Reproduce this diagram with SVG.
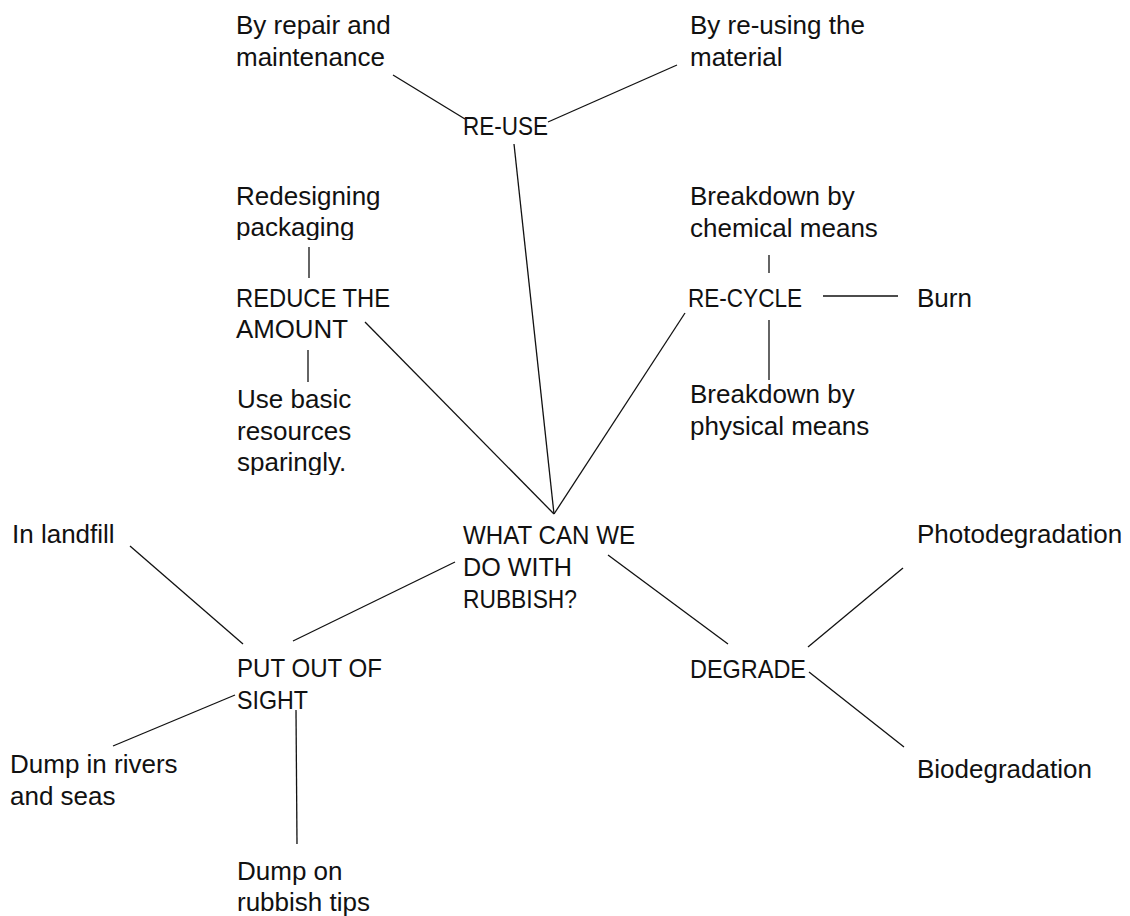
<svg xmlns="http://www.w3.org/2000/svg" width="1130" height="916" viewBox="0 0 1130 916">
<style>
text{font-family:"Liberation Sans",Arial,sans-serif;font-size:26px;fill:#111}
.c line{stroke:#111;stroke-width:1.3;fill:none}
</style>
<defs>
<clipPath id="clipPack"><rect x="0" y="0" width="1130" height="240"/></clipPath>
<clipPath id="clipSpar"><rect x="0" y="0" width="1130" height="475"/></clipPath>
</defs>
<rect width="1130" height="916" fill="#fff"/>
<g class="c" id="connectors">
<line x1="393" y1="75" x2="465" y2="119"/>
<line x1="548" y1="122" x2="677" y2="65"/>
<line x1="514" y1="144" x2="554" y2="514"/>
<line x1="365" y1="322" x2="554" y2="514"/>
<line x1="685" y1="313" x2="554" y2="514"/>
<line x1="309" y1="247" x2="309" y2="278"/>
<line x1="308" y1="350" x2="308" y2="382"/>
<line x1="769" y1="255" x2="769" y2="273"/>
<line x1="823" y1="296" x2="898" y2="296"/>
<line x1="769" y1="320" x2="769" y2="380"/>
<line x1="455" y1="562" x2="293" y2="641"/>
<line x1="130" y1="546" x2="243" y2="644"/>
<line x1="113" y1="746" x2="235" y2="695"/>
<line x1="296" y1="710" x2="297" y2="844"/>
<line x1="608" y1="555" x2="728" y2="644"/>
<line x1="808" y1="647" x2="903" y2="568"/>
<line x1="809" y1="672" x2="904" y2="747"/>
</g>
<g id="center"><text x="463" y="544" textLength="172" lengthAdjust="spacingAndGlyphs">WHAT CAN WE</text><text x="463" y="576" textLength="109" lengthAdjust="spacingAndGlyphs">DO WITH</text><text x="463" y="608" textLength="114" lengthAdjust="spacingAndGlyphs">RUBBISH?</text></g>
<g id="reuse"><text x="463" y="135" textLength="85" lengthAdjust="spacingAndGlyphs">RE-USE</text></g>
<g id="reuse-repair"><text x="236" y="34">By repair and</text><text x="236" y="66">maintenance</text></g>
<g id="reuse-material"><text x="690" y="34">By re-using the</text><text x="690" y="66">material</text></g>
<g id="reduce"><text x="236" y="307" textLength="154" lengthAdjust="spacingAndGlyphs">REDUCE THE</text><text x="236" y="338" textLength="112" lengthAdjust="spacingAndGlyphs">AMOUNT</text></g>
<g id="reduce-redesign"><text x="236" y="205">Redesigning</text><text x="236" y="236" clip-path="url(#clipPack)">packaging</text></g>
<g id="reduce-sparing"><text x="237" y="408">Use basic</text><text x="237" y="440">resources</text><text x="237" y="471" clip-path="url(#clipSpar)">sparingly.</text></g>
<g id="recycle"><text x="688" y="307" textLength="114" lengthAdjust="spacingAndGlyphs">RE-CYCLE</text></g>
<g id="recycle-chemical"><text x="690" y="205">Breakdown by</text><text x="690" y="237">chemical means</text></g>
<g id="recycle-burn"><text x="917" y="307">Burn</text></g>
<g id="recycle-physical"><text x="690" y="403">Breakdown by</text><text x="690" y="435">physical means</text></g>
<g id="sight"><text x="237" y="677" textLength="145" lengthAdjust="spacingAndGlyphs">PUT OUT OF</text><text x="237" y="709" textLength="71" lengthAdjust="spacingAndGlyphs">SIGHT</text></g>
<g id="sight-landfill"><text x="12" y="543">In landfill</text></g>
<g id="sight-rivers"><text x="10" y="773">Dump in rivers</text><text x="10" y="805">and seas</text></g>
<g id="sight-tips"><text x="237" y="880">Dump on</text><text x="237" y="911">rubbish tips</text></g>
<g id="degrade"><text x="690" y="678" textLength="116" lengthAdjust="spacingAndGlyphs">DEGRADE</text></g>
<g id="degrade-photo"><text x="917" y="543">Photodegradation</text></g>
<g id="degrade-bio"><text x="917" y="778">Biodegradation</text></g>
</svg>
